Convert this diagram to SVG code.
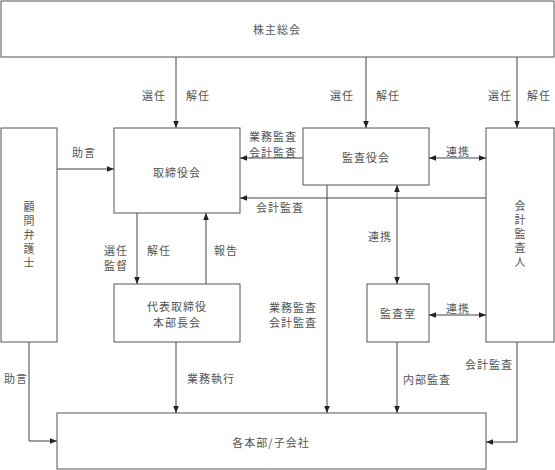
<svg xmlns="http://www.w3.org/2000/svg" width="555" height="470" viewBox="0 0 555 470">
<defs>
<marker id="ah" viewBox="0 0 10 10" refX="10" refY="5" markerWidth="7" markerHeight="7" orient="auto-start-reverse" markerUnits="userSpaceOnUse"><path d="M0,1 L10,5 L0,9 Z" fill="#222"/></marker>
<style>
.box{fill:#fff;stroke:#555;stroke-width:1}
.ln{fill:none;stroke:#444;stroke-width:1}
text{font-family:"Noto Sans CJK JP","Noto Sans CJK SC",sans-serif;font-size:11px;fill:#555;letter-spacing:1px;text-anchor:middle;dominant-baseline:central}
.vt{writing-mode:vertical-rl;letter-spacing:3px}
</style>
</defs>
<rect width="555" height="470" fill="#fff"/>
<g id="connectors">
<path class="ln" d="M176,57 V128" marker-end="url(#ah)"/>
<path class="ln" d="M366,57 V128" marker-end="url(#ah)"/>
<path class="ln" d="M517,57 V128" marker-end="url(#ah)"/>
<path class="ln" d="M57,169 H114" marker-end="url(#ah)"/>
<path class="ln" d="M303,158 H240" marker-end="url(#ah)"/>
<path class="ln" d="M486,198 H240" marker-end="url(#ah)"/>
<path class="ln" d="M429,158 H486" marker-start="url(#ah)" marker-end="url(#ah)"/>
<path class="ln" d="M137,213 V284" marker-end="url(#ah)"/>
<path class="ln" d="M206,284 V213" marker-end="url(#ah)"/>
<path class="ln" d="M397,185 V284" marker-start="url(#ah)" marker-end="url(#ah)"/>
<path class="ln" d="M429,315 H486" marker-start="url(#ah)" marker-end="url(#ah)"/>
<path class="ln" d="M327,185 V413" marker-end="url(#ah)"/>
<path class="ln" d="M176,342 V413" marker-end="url(#ah)"/>
<path class="ln" d="M397,342 V413" marker-end="url(#ah)"/>
<path class="ln" d="M29,342 V441 H57" marker-end="url(#ah)"/>
<path class="ln" d="M517,342 V442 H486" marker-end="url(#ah)"/>
<text x="154" y="95">選任</text>
<text x="198" y="95">解任</text>
<text x="342" y="95">選任</text>
<text x="388" y="95">解任</text>
<text x="500" y="95">選任</text>
<text x="539" y="95">解任</text>
<text x="84" y="152">助言</text>
<text x="273" y="136">業務監査</text>
<text x="273" y="152">会計監査</text>
<text x="280" y="207">会計監査</text>
<text x="458" y="151">連携</text>
<text x="116" y="250">選任</text>
<text x="116" y="265">監督</text>
<text x="159" y="250">解任</text>
<text x="226" y="250">報告</text>
<text x="380" y="236">連携</text>
<text x="293" y="307">業務監査</text>
<text x="293" y="322">会計監査</text>
<text x="458" y="308">連携</text>
<text x="211" y="378">業務執行</text>
<text x="427" y="379">内部監査</text>
<text x="489" y="364">会計監査</text>
<text x="16" y="378">助言</text>
</g>
<g id="shareholders"><rect class="box" x="1" y="1" width="553" height="56"/><text x="277" y="29">株主総会</text></g>
<g id="board"><rect class="box" x="114" y="128" width="126" height="85"/><text x="177" y="172">取締役会</text></g>
<g id="auditors"><rect class="box" x="303" y="128" width="126" height="57"/><text x="366" y="157">監査役会</text></g>
<g id="lawyer"><rect class="box" x="1" y="128" width="56" height="214"/><text class="vt" x="29" y="236">顧問弁護士</text></g>
<g id="accountant"><rect class="box" x="486" y="128" width="68" height="214"/><text class="vt" x="520" y="235">会計監査人</text></g>
<g id="exec"><rect class="box" x="114" y="284" width="126" height="58"/><text x="177" y="306">代表取締役</text><text x="177" y="322">本部長会</text></g>
<g id="auditroom"><rect class="box" x="367" y="284" width="62" height="58"/><text x="398" y="313">監査室</text></g>
<g id="divisions"><rect class="box" x="57" y="413" width="429" height="56"/><text x="271" y="442">各本部/子会社</text></g>
</svg>
